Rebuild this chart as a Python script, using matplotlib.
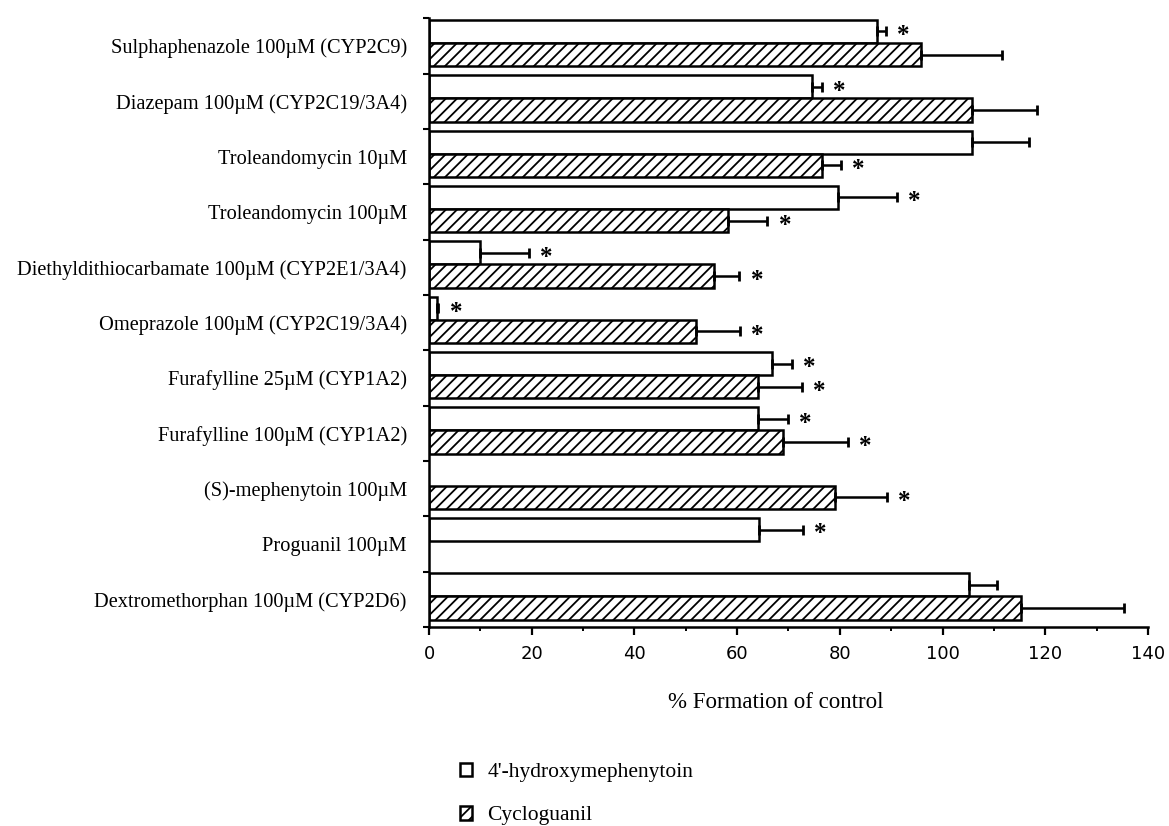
import numpy as np
import matplotlib.pyplot as plt
from matplotlib.ticker import MultipleLocator, FixedLocator

categories = [
    "Sulphaphenazole 100\u00b5M (CYP2C9)",
    "Diazepam 100\u00b5M (CYP2C19/3A4)",
    "Troleandomycin 10\u00b5M",
    "Troleandomycin 100\u00b5M",
    "Diethyldithiocarbamate 100\u00b5M (CYP2E1/3A4)",
    "Omeprazole 100\u00b5M (CYP2C19/3A4)",
    "Furafylline 25\u00b5M (CYP1A2)",
    "Furafylline 100\u00b5M (CYP1A2)",
    "(S)-mephenytoin 100\u00b5M",
    "Proguanil 100\u00b5M",
    "Dextromethorphan 100\u00b5M (CYP2D6)",
]

# % formation of control, nan = not measured
hydroxy = [87.2, 74.6, 105.7, 79.6, 9.9, 1.5, 66.8, 64.1, np.nan, 64.3, 105.1]
hydroxy_err = [1.8, 1.9, 11.1, 11.5, 9.6, 0.3, 3.9, 5.8, np.nan, 8.5, 5.5]
hydroxy_sig = [1, 1, 0, 1, 1, 1, 1, 1, 0, 1, 0]

cyclo = [95.8, 105.7, 76.5, 58.2, 55.5, 52.0, 64.1, 68.9, 79.0, np.nan, 115.3]
cyclo_err = [15.8, 12.7, 3.7, 7.7, 4.9, 8.5, 8.5, 12.7, 10.2, np.nan, 20.0]
cyclo_sig = [0, 0, 1, 1, 1, 1, 1, 1, 1, 0, 0]

serif = "Liberation Serif"
sans = "DejaVu Sans"
plt.rcParams['hatch.linewidth'] = 1.3

fig = plt.figure(figsize=(11.69, 8.26), dpi=100)
ax = fig.add_axes([0.367, 0.241, 0.615, 0.737])

y = np.arange(len(categories))
h = 0.42


def draw(vals, errs, sig, off, hatch):
    vals = np.array(vals)
    errs = np.array(errs)
    m = ~np.isnan(vals)
    yy = y[m] + off
    bars = ax.barh(yy, vals[m], height=h, color='white', edgecolor='black',
                   linewidth=1.8, hatch=hatch)
    ax.errorbar(vals[m], yy, xerr=[np.zeros(m.sum()), errs[m]], fmt='none',
                ecolor='black', elinewidth=1.8, capsize=3.6, capthick=2)
    for i in np.where(m)[0]:
        if sig[i]:
            ax.text(vals[i] + errs[i] + 2.2, y[i] + off + 0.08, '*',
                    ha='left', va='center', fontsize=18, family=serif,
                    fontweight='bold')
    return bars


b1 = draw(hydroxy, hydroxy_err, hydroxy_sig, -0.26, None)
b2 = draw(cyclo, cyclo_err, cyclo_sig, 0.16, '///')

ax.set_xlim(0, 140)
ax.set_ylim(len(categories) - 0.5, -0.5)

ax.set_yticks(y)
ax.set_yticklabels(categories, family=serif, fontsize=14.7)
ax.yaxis.set_minor_locator(FixedLocator(np.arange(-0.5, len(categories), 1)))
ax.tick_params(axis='y', which='major', length=0, pad=16)
ax.tick_params(axis='y', which='minor', length=4, width=1.5, direction='out')

ax.xaxis.set_major_locator(MultipleLocator(20))
ax.xaxis.set_minor_locator(MultipleLocator(10))
ax.tick_params(axis='x', which='major', length=6, width=1.6, pad=7,
               labelsize=13)
ax.tick_params(axis='x', which='minor', length=3, width=1.4)
for t in ax.get_xticklabels():
    t.set_family(sans)

for s in ['top', 'right']:
    ax.spines[s].set_visible(False)
for s in ['left', 'bottom']:
    ax.spines[s].set_linewidth(1.8)

fig.text(0.664, 0.150, "% Formation of control", family=serif, fontsize=16.5,
         ha='center', va='center')

fig.legend([b1, b2], ["4'-hydroxymephenytoin", "Cycloguanil"],
           loc='upper left', bbox_to_anchor=(0.3765, 0.100),
           bbox_transform=fig.transFigure, frameon=False,
           prop={'family': serif, 'size': 15.5}, handlelength=0.6,
           handleheight=0.6, handletextpad=0.7, labelspacing=1.1)

fig.savefig("out.png", dpi=100)
